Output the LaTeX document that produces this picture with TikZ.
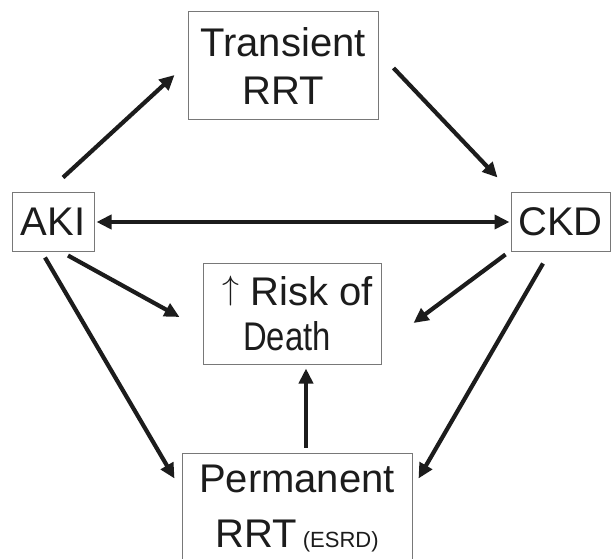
\documentclass[tikz,border=0pt]{standalone}
\usepackage{fontspec}
\setmainfont{Liberation Sans}
\usetikzlibrary{arrows.meta}
\definecolor{boxgray}{RGB}{120,120,120}
\definecolor{arrowk}{RGB}{28,28,28}
\newcommand{\thinup}{\scalebox{1.36}{\raisebox{4.83pt}{$\uparrow$}}}
\begin{document}
\begin{tikzpicture}[x=1pt,y=-1pt,
  box/.style={draw=boxgray,line width=1pt,inner sep=0pt,align=center,text=arrowk},
  conn/.style={draw=arrowk,line width=4.2pt,-{Triangle[length=15pt,width=14pt]}},
  dconn/.style={draw=arrowk,line width=4.2pt,{Triangle[length=15pt,width=14pt]}-{Triangle[length=15pt,width=14pt]}}
]
\useasboundingbox (0,0) rectangle (611,559);
\node[box,minimum width=190pt,minimum height=108pt,font=\fontsize{40}{48}\selectfont] (trans) at (283,66) {Transient\\RRT};
\node[box,minimum width=82pt,minimum height=58pt,font=\fontsize{40}{48}\selectfont] (aki) at (53,222) {AKI};
\node[box,minimum width=99pt,minimum height=58pt,font=\fontsize{40}{48}\selectfont] (ckd) at (560.5,222) {CKD};
\node[box,minimum width=178pt,minimum height=101pt,font=\fontsize{40}{45}\selectfont] (risk) at (292,313.5)
  {\rule{12pt}{0pt}\thinup\ Risk of\\\scalebox{0.82}[1]{Death}\rule{10pt}{0pt}};
\node[box,minimum width=230pt,minimum height=112pt,font=\fontsize{40}{55}\selectfont] (perm) at (297,509) {Permanent\\RRT\hspace{6pt}{\fontsize{22}{24}\selectfont (ESRD)}};

\draw[conn] ([shift={(10,-15)}]aki.north) -- ([shift={(-13,9)}]trans.west);
\draw[conn] ([shift={(15,2)}]trans.east) -- ([shift={(-13,-15)}]ckd.north west);
\draw[dconn] ([shift={(2,0)}]aki.east) -- ([shift={(-1,0)}]ckd.west);
\draw[conn] ([shift={(15,4)}]aki.south) -- ([shift={(-23,3.5)}]risk.west);
\draw[conn] ([shift={(-8,6)}]aki.south) -- ([shift={(-7,26)}]perm.north west);
\draw[conn] ([shift={(-5,3)}]ckd.south west) -- ([shift={(32,9.5)}]risk.east);
\draw[conn] ([shift={(-17.5,12)}]ckd.south) -- ([shift={(6,26)}]perm.north east);
\draw[conn] ([shift={(9,-5)}]perm.north) -- ([shift={(14,4)}]risk.south);
\end{tikzpicture}
\end{document}
